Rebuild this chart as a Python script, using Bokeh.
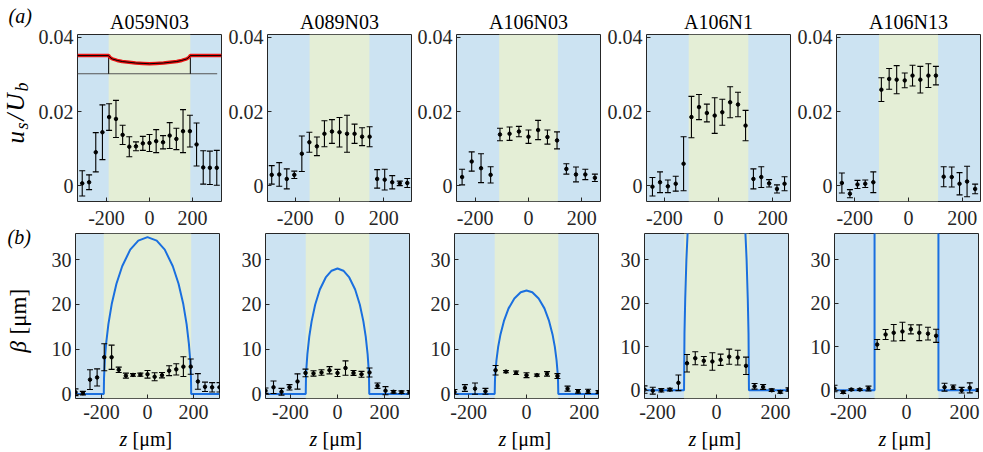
from bokeh.plotting import figure
from bokeh.models import Range1d, FixedTicker, Label, BoxAnnotation
from bokeh.layouts import row, column
from bokeh.embed import file_html
from bokeh.resources import INLINE

# ---------------- data ----------------
TITLES = ["A059N03", "A089N03", "A106N03", "A106N1", "A106N13"]
HALF_WIDTH = [190, 135, 110, 110, 110]          # half width of the green (central) region, um
TOP_XLIM = [335, 325, 270, 266, 268]

Z1 = [-313, -281, -250, -219, -188, -156, -125, -94, -63, -31, 0, 31, 63, 94, 125, 156, 188, 219, 250, 281, 313]
Z2 = [-306, -272, -238, -204, -170, -136, -102, -68, -34, 0, 34, 68, 102, 136, 170, 204, 238, 272, 306]
Z3 = [-249, -213, -178, -142, -107, -71, -36, 0, 36, 71, 107, 142, 178, 213, 249]
Z4 = [-244, -216, -187, -158, -129, -100, -72, -43, -14, 14, 43, 72, 100, 129, 158, 187, 216, 244]
Z5 = [-248, -218, -190, -161, -131, -101, -72, -44, -14, 15, 44, 74, 102, 131, 161, 190, 218, 248]

US1 = [0.0006, 0.0009, 0.0090, 0.0144, 0.0185, 0.0180, 0.0137, 0.0105, 0.0106, 0.0114, 0.0115, 0.0120, 0.0117, 0.0135, 0.0126, 0.0147, 0.0147, 0.0111, 0.0049, 0.0048, 0.0048]
US1_ERR = [0.0034, 0.0020, 0.0053, 0.0074, 0.0036, 0.0050, 0.0026, 0.0027, 0.0012, 0.0019, 0.0023, 0.0031, 0.0018, 0.0035, 0.0029, 0.0058, 0.0043, 0.0058, 0.0045, 0.0045, 0.0047]
US2 = [0.0029, 0.0030, 0.0018, 0.0029, 0.0086, 0.0117, 0.0106, 0.0140, 0.0146, 0.0144, 0.0140, 0.0140, 0.0132, 0.0132, 0.0018, 0.0016, 0.0009, 0.0006, 0.0007]
US2_ERR = [0.0025, 0.0032, 0.0027, 0.0010, 0.0048, 0.0027, 0.0025, 0.0035, 0.0032, 0.0040, 0.0050, 0.0026, 0.0024, 0.0027, 0.0025, 0.0028, 0.0018, 0.0006, 0.0012]
US3 = [0.0023, 0.0065, 0.0047, 0.0029, 0.0138, 0.0140, 0.0146, 0.0132, 0.0150, 0.0131, 0.0122, 0.0045, 0.0030, 0.0030, 0.0021]
US3_ERR = [0.0021, 0.0026, 0.0039, 0.0022, 0.0017, 0.0018, 0.0014, 0.0018, 0.0026, 0.0019, 0.0023, 0.0014, 0.0020, 0.0014, 0.0010]
US4 = [-0.0003, 0.0009, -0.0002, 0.0005, 0.0059, 0.0185, 0.0212, 0.0196, 0.0189, 0.0198, 0.0225, 0.0219, 0.0162, 0.0018, 0.0023, 0.0006, -0.0009, 0.0005]
US4_ERR = [0.0025, 0.0028, 0.0017, 0.0020, 0.0073, 0.0056, 0.0034, 0.0024, 0.0048, 0.0035, 0.0042, 0.0033, 0.0041, 0.0027, 0.0028, 0.0010, 0.0011, 0.0019]
US5 = [0.0007, -0.0022, 0.0003, 0.0005, 0.0009, 0.0259, 0.0288, 0.0286, 0.0284, 0.0297, 0.0286, 0.0297, 0.0297, 0.0024, 0.0023, 0.0005, 0.0011, -0.0009]
US5_ERR = [0.0027, 0.0011, 0.0011, 0.0010, 0.0028, 0.0032, 0.0028, 0.0038, 0.0020, 0.0028, 0.0036, 0.0032, 0.0025, 0.0027, 0.0027, 0.0030, 0.0041, 0.0013]

B1 = [0.4, 0.2, 3.2, 3.7, 8.2, 8.2, 5.4, 4.1, 4.25, 4.3, 4.4, 3.85, 4.2, 5.2, 5.5, 6.1, 6.1, 2.8, 1.6, 1.5, 1.5]
B1_ERR = [0.75, 0.4, 2.2, 1.9, 3.0, 2.7, 0.6, 0.55, 0.3, 0.35, 0.85, 0.9, 0.6, 1.1, 1.25, 2.2, 1.7, 1.75, 1.05, 1.05, 1.05]
B2 = [0.74, 1.5, 0.5, 1.5, 2.8, 4.7, 4.6, 4.8, 5.3, 4.7, 5.8, 4.7, 4.4, 4.8, 1.85, 0.74, 0.5, 0.4, 0.4]
B2_ERR = [0.6, 1.4, 0.75, 0.6, 1.7, 0.85, 0.6, 0.6, 0.8, 0.8, 1.6, 0.55, 0.65, 1.0, 0.6, 0.9, 0.3, 0.3, 0.4]
B3 = [0.45, 1.35, 1.2, 0.6, 5.3, 5.0, 4.75, 4.2, 4.2, 4.5, 4.0, 1.2, 0.6, 0.6, 0.45]
B3_ERR = [0.55, 0.75, 1.25, 0.65, 1.05, 0.25, 0.4, 0.55, 0.25, 0.5, 0.55, 0.55, 0.4, 0.45, 0.3]
B4 = [0.15, -0.1, 0.0, 0.15, 1.7, 6.2, 7.35, 6.75, 6.6, 7.0, 7.7, 7.5, 5.6, 0.9, 0.75, 0.0, -0.4, 0.15]
B4_ERR = [0.85, 0.8, 0.4, 0.3, 1.8, 2.0, 1.5, 1.0, 2.0, 1.3, 1.75, 1.7, 2.0, 0.65, 0.55, 0.3, 0.3, 0.4]
B5 = [0.4, -0.45, 0.15, 0.15, 0.4, 10.5, 12.8, 13.2, 13.5, 14.0, 13.2, 13.0, 12.5, 0.7, 0.7, 0.0, 0.55, 0.0]
B5_ERR = [0.75, 0.3, 0.2, 0.2, 0.55, 1.15, 1.15, 1.9, 2.1, 1.05, 1.8, 1.45, 1.5, 0.9, 0.5, 0.65, 1.15, 0.3]

# model beta profiles (blue lines)
BZ1 = [-313, -190, -189, -185, -180, -170, -155, -135, -110, -75, -40, 0, 40, 75, 110, 135, 155, 170, 180, 185, 189, 190, 313]
BM1 = [0, 0, 3.6, 8.0, 11.2, 15.6, 20.2, 24.6, 28.5, 32.2, 34.2, 35.0, 34.2, 32.2, 28.5, 24.6, 20.2, 15.6, 11.2, 8.0, 3.6, 0, 0]
BZ2 = [-306, -135, -134, -132, -128, -120, -110, -95, -75, -50, -25, 0, 25, 50, 75, 95, 110, 120, 128, 132, 134, 135, 306]
BM2 = [0, 0, 3.4, 5.9, 8.9, 12.8, 16.2, 19.9, 23.3, 26.0, 27.5, 28.0, 27.5, 26.0, 23.3, 19.9, 16.2, 12.8, 8.9, 5.9, 3.4, 0, 0]
BZ3 = [-249, -110, -109, -108, -104, -98, -90, -78, -62, -42, -20, 0, 20, 42, 62, 78, 90, 98, 104, 108, 109, 110, 249]
BM3 = [0, 0, 3.1, 4.4, 7.5, 10.5, 13.3, 16.3, 19.1, 21.3, 22.7, 23.1, 22.7, 21.3, 19.1, 16.3, 13.3, 10.5, 7.5, 4.4, 3.1, 0, 0]
BZ4 = [-244, -110, -108.5, -106, -102, -98, -94, 94, 98, 102, 106, 108.5, 110, 244]
BM4 = [0, 0, 13, 21, 30, 36, 41, 41, 36, 30, 21, 13, 0, 0]
BZ5 = [-248, -110, -110, 110, 110, 248]
BM5 = [0, 0, 60, 60, 0, 0]

# schematic inset of panel (a) A059N03
INSET_BASE_Z = [-335, 315]
INSET_BASE_Y = [0.0302, 0.0302]
INSET_WALL_Z = [-190, 190]
INSET_WALL_Y0 = [0.0302, 0.0302]
INSET_WALL_Y1 = [0.0351, 0.0351]
INSET_PROFILE_Z = [-335, -190, -185, -173, -150, -127, -95, -65, -30, 0, 30, 65, 95, 127, 150, 173, 185, 190, 335]
INSET_PROFILE_Y = [0.0351, 0.0351, 0.0347, 0.0342, 0.0338, 0.0335, 0.0333, 0.0331, 0.0330, 0.0329, 0.0330, 0.0331, 0.0333, 0.0335, 0.0338, 0.0342, 0.0347, 0.0351, 0.0351]

X_TICKS = [-200, 0, 200]
X_TICK_LABELS = {-200: "-200", 0: "0", 200: "200"}
US_TICKS = [0, 0.02, 0.04]
US_TICK_LABELS = {0: "0", 0.02: "0.02", 0.04: "0.04"}
B_TICKS = [0, 10, 20, 30]
US_YLIM = (-0.0043, 0.0408)
B_YLIM = [(-1.0, 35.8), (-1.0, 35.8), (-1.0, 35.8), (-1.9, 36.0), (-1.9, 36.0)]

ZS = [Z1, Z2, Z3, Z4, Z5]
USS = [US1, US2, US3, US4, US5]
USE = [US1_ERR, US2_ERR, US3_ERR, US4_ERR, US5_ERR]
BS = [B1, B2, B3, B4, B5]
BE = [B1_ERR, B2_ERR, B3_ERR, B4_ERR, B5_ERR]
BZS = [BZ1, BZ2, BZ3, BZ4, BZ5]
BMS = [BM1, BM2, BM3, BM4, BM5]

# ---------------- style / layout ----------------
SERIF = "Liberation Serif"
BLUE_BG = "#cce3f2"
GREEN_BG = "#e4eed6"
AX = "#262626"
CURVE = "#1a6fdf"
FW = 144
GUTTER = 35
LEFT_B = [40, 43, 42, 43, 43]
RIGHT_B = 3
TOP_BT, TOP_FH, TOP_BB, TOP_STANDOFF = 34, 167, 32, 9
BOT_BT, BOT_FH, BOT_BB, BOT_STANDOFF = 0, 165, 29, 6
ZSTRIP_H = 23
TOTAL_W = GUTTER + sum(LEFT_B) + 5 * (FW + RIGHT_B)
GUTTER_H = TOP_BT + TOP_FH + TOP_BB + BOT_BT + BOT_FH + BOT_BB
MID = 0.32   # distance from the text middle line to the baseline, in em

# frame centres (page x) of the five columns
CENTERS = []
_x = GUTTER
for _b in LEFT_B:
    CENTERS.append(_x + _b + FW / 2)
    _x += _b + FW + RIGHT_B


def blank(w, h):
    b = figure(frame_width=w, frame_height=h, x_range=Range1d(0, 1), y_range=Range1d(0, 1),
               min_border=0, x_axis_location=None, y_axis_location=None,
               output_backend="svg", toolbar_location=None, outline_line_color=None,
               background_fill_color="white", border_fill_color="white")
    b.title.visible = False
    b.grid.visible = False
    return b


def make_panel(xr, yr, fh, bl, bt, bb, xstand, yticks, yover, half, title=None):
    p = figure(frame_width=FW, frame_height=fh,
               x_range=Range1d(*xr), y_range=Range1d(*yr),
               min_border_left=bl, min_border_right=RIGHT_B,
               min_border_top=bt, min_border_bottom=bb,
               output_backend="svg", toolbar_location=None,
               background_fill_color=BLUE_BG, border_fill_color="white",
               outline_line_color=AX, outline_line_width=1)
    if title:
        p.title.text = title
        p.title.align = "center"
        p.title.text_font = SERIF
        p.title.text_font_size = "20px"
        p.title.text_font_style = "normal"
        p.title.text_color = "black"
        p.title.standoff = 4
    else:
        p.title.visible = False
    p.grid.visible = False
    for ax in p.axis:
        ax.axis_line_color = None
        ax.major_tick_in = 4
        ax.major_tick_out = 0
        ax.major_tick_line_color = AX
        ax.minor_tick_line_color = None
        ax.major_label_text_font = SERIF
        ax.major_label_text_font_size = "20px"
        ax.major_label_text_color = AX
        ax.axis_label_standoff = 0
    p.xaxis.ticker = FixedTicker(ticks=X_TICKS)
    p.xaxis.major_label_overrides = X_TICK_LABELS
    p.yaxis.ticker = FixedTicker(ticks=yticks)
    if yover:
        p.yaxis.major_label_overrides = yover
    p.xaxis.major_label_standoff = xstand
    p.yaxis.major_label_standoff = 4
    p.add_layout(BoxAnnotation(left=-half, right=half, fill_color=GREEN_BG, fill_alpha=1.0,
                               line_color=None, level="underlay"))
    return p


def add_points(p, z, v, e, cap):
    lo = [a - b for a, b in zip(v, e)]
    hi = [a + b for a, b in zip(v, e)]
    p.segment(x0=z, y0=lo, x1=z, y1=hi, line_color="black", line_width=1.1)
    p.scatter(x=z, y=hi, marker="dash", size=cap, line_color="black", line_width=1.1)
    p.scatter(x=z, y=lo, marker="dash", size=cap, line_color="black", line_width=1.1)
    p.scatter(x=z, y=v, marker="circle", size=3.5, fill_color="black", line_color="black")


def lab(p, x, y, text, size, style="normal", align="left", angle=0.0):
    """x, y: position of the text baseline start (y measured upwards from the frame bottom)."""
    s = float(size.replace("px", ""))
    if angle:
        x = x - MID * s
    else:
        y = y + MID * s
    p.add_layout(Label(x=x, y=y, x_units="screen", y_units="screen", text=text,
                       text_font=SERIF, text_font_size=size, text_font_style=style,
                       text_align=align, text_baseline="middle", angle=angle,
                       text_color="black"))


ANG = 1.5708

# left gutter with "(a)", "(b)" and the y labels (page y -> gutter y = GUTTER_H - page y)
gut = blank(GUTTER, GUTTER_H)
lab(gut, 8, GUTTER_H - 22, "(a)", "20px", style="italic")
lab(gut, 23, GUTTER_H - 143, "u", "25px", style="italic", angle=ANG)
lab(gut, 27.5, GUTTER_H - 129, "s", "18px", style="italic", angle=ANG)
lab(gut, 23, GUTTER_H - 120, "/", "25px", style="italic", angle=ANG)
lab(gut, 23, GUTTER_H - 111, "U", "25px", style="italic", angle=ANG)
lab(gut, 27.5, GUTTER_H - 91, "b", "18px", style="italic", angle=ANG)
lab(gut, 7, GUTTER_H - 243, "(b)", "20px", style="italic")
lab(gut, 25, GUTTER_H - 352, "β", "23px", style="italic", angle=ANG)
lab(gut, 25, GUTTER_H - 334, "[μm]", "23px", angle=ANG)

# bottom strip with the x labels
z_strip = blank(TOTAL_W, ZSTRIP_H)
for c in CENTERS:
    lab(z_strip, c - 28, 5, "z", "20px", style="italic")
    lab(z_strip, c - 15, 5, "[μm]", "20px")

top, bottom = [], []
for i in range(5):
    half = HALF_WIDTH[i]
    p = make_panel((-TOP_XLIM[i], TOP_XLIM[i]), US_YLIM, TOP_FH, LEFT_B[i], TOP_BT, TOP_BB,
                   TOP_STANDOFF, US_TICKS, US_TICK_LABELS, half, title=TITLES[i])
    if i == 0:
        p.line(INSET_BASE_Z, INSET_BASE_Y, line_color="#555555", line_width=1)
        p.segment(x0=INSET_WALL_Z, y0=INSET_WALL_Y0, x1=INSET_WALL_Z, y1=INSET_WALL_Y1,
                  line_color="black", line_width=1)
        p.line(INSET_PROFILE_Z, INSET_PROFILE_Y, line_color="#ee1111", line_width=3.5)
        p.line(INSET_PROFILE_Z, INSET_PROFILE_Y, line_color="black", line_width=1)
    add_points(p, ZS[i], USS[i], USE[i], 6)
    top.append(p)

    z = ZS[i]
    q = make_panel((z[0], z[-1]), B_YLIM[i], BOT_FH, LEFT_B[i], BOT_BT, BOT_BB,
                   BOT_STANDOFF, B_TICKS, None, half)
    q.line(BZS[i], BMS[i], line_color=CURVE, line_width=2)
    add_points(q, z, BS[i], BE[i], 6)
    bottom.append(q)

panels = column(row(*top, spacing=0), row(*bottom, spacing=0), spacing=0)
layout = column(row(gut, panels, spacing=0), z_strip, spacing=0)

with open("out.html", "w") as f:
    f.write(file_html(layout, INLINE))
